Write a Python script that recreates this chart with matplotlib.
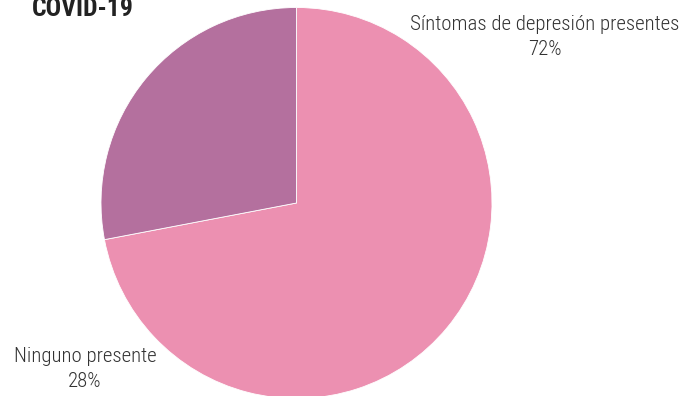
import matplotlib
matplotlib.use("Agg")
import matplotlib.pyplot as plt

# Data
categories = ["Síntomas de depresión presentes", "Ninguno presente"]
values = [72, 28]
colors = ["#EC90B1", "#B4709E"]

FONT = ["Roboto Condensed", "DejaVu Sans"]
plt.rcParams["font.family"] = FONT

W, H = 695, 396
fig = plt.figure(figsize=(W / 100, H / 100), dpi=100)

# Pie axes: centre (296.5, 203) px from top-left, radius 195.5 px
cx, cy, r = 296.5, 203.0, 195.5
ax = fig.add_axes([(cx - r) / W, (H - cy - r) / H, 2 * r / W, 2 * r / H])
ax.pie(values, colors=colors, startangle=90, counterclock=False, radius=1,
       wedgeprops=dict(edgecolor="white", linewidth=0.6))
ax.set_xlim(-1, 1)
ax.set_ylim(-1, 1)
ax.set_aspect("equal")
ax.axis("off")

total = sum(values)
pcts = [f"{round(v / total * 100)}%" for v in values]

label_pos = [(545, 37), (85, 369)]
for name, pct, (lx, ly) in zip(categories, pcts, label_pos):
    fig.text(lx / W, 1 - ly / H, f"{name}\n{pct}", ha="center", va="center",
             fontsize=15, fontweight="light", color="#333333", linespacing=1.45)

# Title, last line only visible at the top edge
fig.text(32 / W, 1 - 16.5 / H, "COVID-19", ha="left", va="baseline",
         fontsize=18.5, fontweight="bold", color="#222222")

fig.savefig("out.png", dpi=100)
